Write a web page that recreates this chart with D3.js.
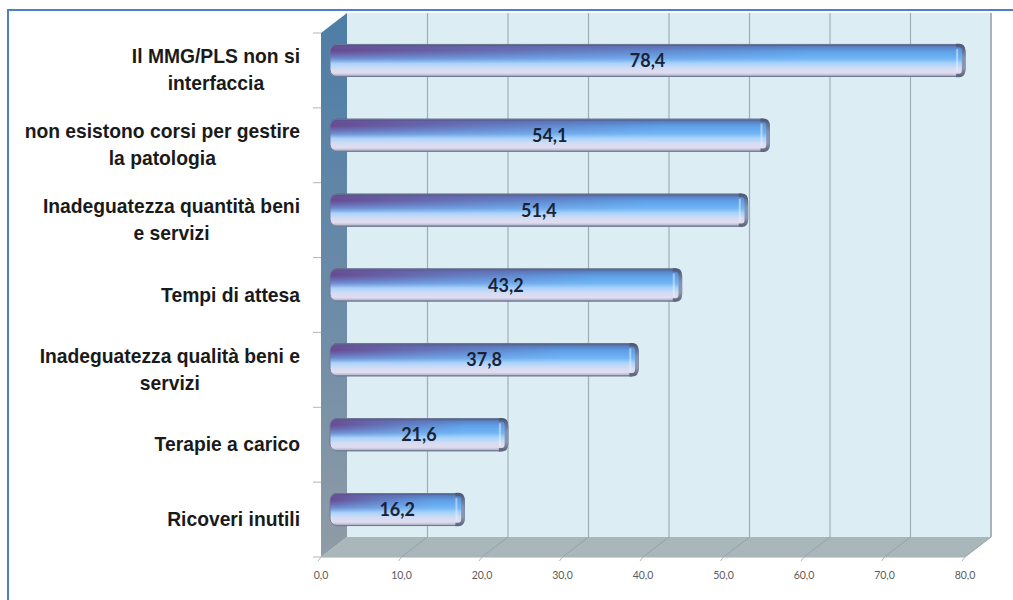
<!DOCTYPE html>
<html><head><meta charset="utf-8">
<script src="https://cdn.jsdelivr.net/npm/d3@7"></script>
<style>body{margin:0;background:#fff}svg{display:block}</style>
</head><body>
<svg id="c" width="1013" height="600"></svg>
<script>
const categories = [
  ["Il MMG/PLS non si", "interfaccia"],
  ["non esistono corsi per gestire", "la patologia"],
  ["Inadeguatezza quantità beni", "e servizi"],
  ["Tempi di attesa"],
  ["Inadeguatezza qualità beni e", "servizi"],
  ["Terapie a carico"],
  ["Ricoveri inutili"]
];
const values = [78.4, 54.1, 51.4, 43.2, 37.8, 21.6, 16.2];
const xTicks = [0, 10, 20, 30, 40, 50, 60, 70, 80];
const fmt = v => v.toFixed(1).replace(".", ",");

const svg = d3.select("#c");
const defs = svg.append("defs");
const LABEL_FONT = "'Liberation Sans', Arial, sans-serif";
const LABEL_SIZE = 19.3;

// geometry
const X0 = 321, Y0 = 33, Y1 = 557, DX = 26, DY = -20;
const x = d3.scaleLinear().domain([0, 80]).range([0, 644]);
const y = d3.scaleBand().domain(d3.range(categories.length)).range([Y0, Y1]).padding(0);

// frame
svg.append("path").attr("d", "M8,600 V10 H1013").attr("fill", "none")
  .attr("stroke", "#4f7fcb").attr("stroke-width", 2);

// gradients
const wg = defs.append("linearGradient").attr("id", "wall").attr("x1", 0).attr("y1", 0).attr("x2", 0).attr("y2", 1);
wg.append("stop").attr("offset", "0%").attr("stop-color", "#4d7da6");
wg.append("stop").attr("offset", "55%").attr("stop-color", "#6d8ca8");
wg.append("stop").attr("offset", "100%").attr("stop-color", "#909ca6");

const bg = defs.append("linearGradient").attr("id", "bar").attr("x1", 0).attr("y1", 0).attr("x2", 0).attr("y2", 1);
[["0%", "#3e4c72"], ["8%", "#5a7fc0"], ["22%", "#5e9fe6"], ["45%", "#72b6f6"], ["58%", "#a6d2fb"], ["75%", "#d4dcf4"], ["88%", "#e2dcef"], ["95%", "#b9bcd0"], ["100%", "#6d7a92"]]
  .forEach(s => bg.append("stop").attr("offset", s[0]).attr("stop-color", s[1]));

const pg = defs.append("linearGradient").attr("id", "purp").attr("x1", 0).attr("y1", 0).attr("x2", 1).attr("y2", 0);
pg.append("stop").attr("offset", "0%").attr("stop-color", "#6a3f86").attr("stop-opacity", 0.9);
pg.append("stop").attr("offset", "35%").attr("stop-color", "#6f4c90").attr("stop-opacity", 0.45);
pg.append("stop").attr("offset", "75%").attr("stop-color", "#6f4c90").attr("stop-opacity", 0);
const mg = defs.append("linearGradient").attr("id", "mgrad").attr("x1", 0).attr("y1", 0).attr("x2", 0).attr("y2", 1);
mg.append("stop").attr("offset", "0%").attr("stop-color", "#fff").attr("stop-opacity", 0.7);
mg.append("stop").attr("offset", "20%").attr("stop-color", "#fff").attr("stop-opacity", 1);
mg.append("stop").attr("offset", "60%").attr("stop-color", "#fff").attr("stop-opacity", 0);
defs.append("mask").attr("id", "pmask").attr("maskContentUnits", "objectBoundingBox")
  .append("rect").attr("x", 0).attr("y", 0).attr("width", 1).attr("height", 1).attr("fill", "url(#mgrad)");

const cg = defs.append("linearGradient").attr("id", "cap").attr("x1", 0).attr("y1", 0).attr("x2", 0).attr("y2", 1);
[["0%", "#4e5a78"], ["40%", "#7f93b4"], ["75%", "#8e96ae"], ["100%", "#5e6880"]]
  .forEach(s => cg.append("stop").attr("offset", s[0]).attr("stop-color", s[1]));

// back wall
svg.append("rect").attr("x", X0 + DX).attr("y", Y0 + DY).attr("width", x(80)).attr("height", Y1 - Y0)
  .attr("fill", "#dcedf4");
svg.append("g").selectAll("line").data(xTicks.slice(1)).join("line")
  .attr("x1", d => X0 + DX + x(d)).attr("x2", d => X0 + DX + x(d))
  .attr("y1", Y0 + DY).attr("y2", Y1 + DY)
  .attr("stroke", d => d === 80 ? "#a8b4b8" : "#9fb0b5").attr("stroke-width", d => d === 80 ? 2 : 1.2);

// floor
svg.append("path")
  .attr("d", `M${X0},${Y1} L${X0 + x(80)},${Y1} L${X0 + x(80) + DX},${Y1 + DY} L${X0 + DX},${Y1 + DY} Z`)
  .attr("fill", "#aab7ba");
svg.append("g").selectAll("line").data(xTicks.slice(1)).join("line")
  .attr("x1", d => X0 + x(d)).attr("y1", Y1)
  .attr("x2", d => X0 + DX + x(d)).attr("y2", Y1 + DY)
  .attr("stroke", "#93a3a6").attr("stroke-width", 1);
svg.append("line").attr("x1", X0).attr("x2", X0 + x(80)).attr("y1", Y1).attr("y2", Y1)
  .attr("stroke", "#a3b0b3").attr("stroke-width", 1);

// left wall
svg.append("path")
  .attr("d", `M${X0},${Y0} L${X0 + DX},${Y0 + DY} L${X0 + DX},${Y1 + DY} L${X0},${Y1} Z`)
  .attr("fill", "url(#wall)");

// y ticks
svg.append("g").selectAll("line").data(d3.range(categories.length + 1)).join("line")
  .attr("x1", X0 - 8).attr("x2", X0).attr("y1", i => Y0 + i * y.bandwidth()).attr("y2", i => Y0 + i * y.bandwidth())
  .attr("stroke", "#b5b5b5").attr("stroke-width", 1);

// x ticks & labels
svg.append("g").selectAll("line").data(xTicks).join("line")
  .attr("x1", d => X0 + x(d)).attr("y1", Y1).attr("x2", d => X0 + x(d) - 3).attr("y2", Y1 + 4)
  .attr("stroke", "#b0b8ba");
svg.append("g").selectAll("text").data(xTicks).join("text")
  .attr("x", d => X0 + x(d)).attr("y", 579).attr("text-anchor", "middle")
  .attr("font-family", "Lato, 'Open Sans', sans-serif").attr("font-size", 10.5).attr("fill", "#5a5a5a")
  .text(fmt);

// bars (mid depth)
const MX = X0 + DX / 2, MY = DY / 2, BH = 33, L0 = MX - 4;
const bars = svg.append("g").selectAll("g").data(values).join("g")
  .attr("transform", (d, i) => `translate(0,${y(i) + y.bandwidth() / 2 + MY - BH / 2})`);
bars.append("rect").attr("x", L0).attr("y", 0).attr("width", d => MX + x(d) - L0).attr("height", BH)
  .attr("rx", 7).attr("fill", "url(#bar)");
bars.append("rect").attr("x", L0).attr("y", 0).attr("width", d => MX + x(d) - L0).attr("height", BH)
  .attr("rx", 7).attr("fill", "url(#purp)").attr("mask", "url(#pmask)");
bars.append("rect").attr("x", L0).attr("y", 0.5).attr("width", d => MX + x(d) - L0).attr("height", BH - 1)
  .attr("rx", 7).attr("fill", "none").attr("stroke", "#6e7a94").attr("stroke-width", 1);
bars.append("path")
  .attr("d", d => { const r = MX + x(d); return `M${r - 9},1.5 H${r - 6} Q${r - 1.5},1.5 ${r - 1.5},7 V${BH - 7} Q${r - 1.5},${BH - 1.5} ${r - 6},${BH - 1.5} H${r - 9}`; })
  .attr("fill", "none").attr("stroke", "url(#cap)").attr("stroke-width", 3.5);
bars.append("line").attr("x1", d => MX + x(d) - 8).attr("x2", d => MX + x(d) - 8).attr("y1", 5).attr("y2", BH - 5)
  .attr("stroke", "#eef4fc").attr("stroke-opacity", 0.5).attr("stroke-width", 2);
bars.append("text").attr("x", d => (L0 + MX + x(d)) / 2).attr("y", BH / 2 + 6.5)
  .attr("text-anchor", "middle").attr("font-family", "Lato, 'Open Sans', sans-serif")
  .attr("font-weight", "bold").attr("font-size", 18).attr("fill", "#1c2233").text(fmt);

// category labels
const lab = svg.append("g").selectAll("text").data(categories).join("text")
  .attr("font-family", LABEL_FONT).attr("font-weight", "bold").attr("font-size", LABEL_SIZE)
  .attr("fill", "#1a1a1a").attr("text-anchor", "middle");
lab.each(function (lines, i) {
  const t = d3.select(this);
  const cy = y(i) + y.bandwidth() / 2;
  const lh = 27;
  const tmp = svg.append("text").attr("font-family", LABEL_FONT).attr("font-weight", "bold").attr("font-size", LABEL_SIZE);
  let w = 0;
  lines.forEach(l => { tmp.text(l); w = Math.max(w, tmp.node().getComputedTextLength()); });
  tmp.remove();
  const cx = 300 - w / 2;
  lines.forEach((l, k) => {
    t.append("tspan").attr("x", cx).attr("y", cy + (k - (lines.length - 1) / 2) * lh + 6.5).text(l);
  });
});
</script>
</body></html>
